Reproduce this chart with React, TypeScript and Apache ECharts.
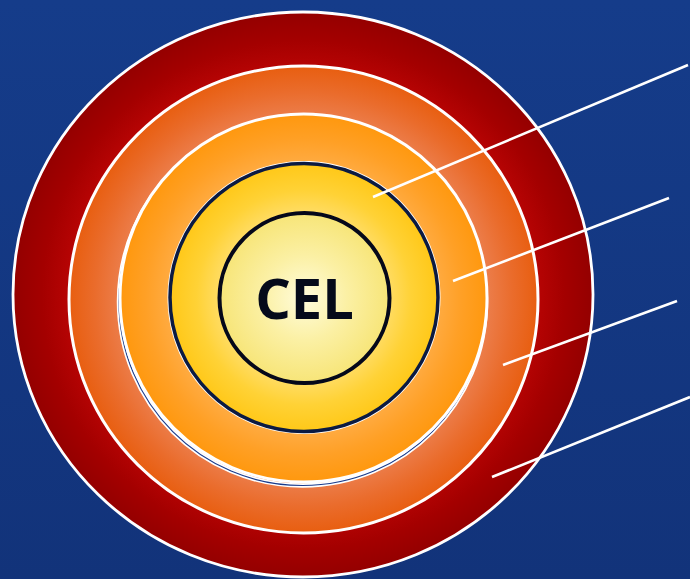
import React, { useEffect, useRef } from "react";
import * as echarts from "echarts";

// Concentric rings (outer -> inner), in pixel-like diagram units
const ringNames = ["Ring 1", "Ring 2", "Ring 3", "Ring 4", "CEL"];
const ringCx = [303, 303.5, 303.5, 304, 304.5];
const ringCy = [294.5, 299.5, 298, 297.5, 298];
const ringRx = [290, 234.5, 183.5, 134, 85];
const ringRy = [282.5, 233.5, 184, 134, 85];
const ringInnerColor = ["#b80404", "#ec7e4c", "#ffac44", "#ffde6c", "#fffcdc"];
const ringMidColor = ["#a40000", "#ea6c2c", "#ffa026", "#ffd236", "#fbf0a4"];
const ringEdgeColor = ["#940000", "#e85e10", "#ff980e", "#ffc818", "#f7e578"];
const ringInnerStop = [0.8, 0.78, 0.72, 0.6, 0];
const ringStroke = ["#ffffff", "#ffffff", "#ffffff", "#0b1a42", "#05081a"];
const ringStrokeWidth = [2.8, 3, 3, 3.5, 4];

// Leader lines
const leaderX1 = [373, 453, 503, 492];
const leaderY1 = [197, 281, 365, 477];
const leaderX2 = [688, 669, 677, 690];
const leaderY2 = [65, 198, 301, 397];

const centerLabel = "CEL";

export default function App() {
  const ref = useRef<HTMLDivElement>(null);
  useEffect(() => {
    if (!ref.current) return;
    const chart = echarts.init(ref.current, undefined, { renderer: "svg" });
    const ringData = ringNames.map((n, i) => ({
      name: n,
      value: [ringCx[i], ringCy[i], ringRx[i], ringRy[i]],
    }));
    const lineData = leaderX1.map((x, i) => [x, leaderY1[i], leaderX2[i], leaderY2[i]]);

    chart.setOption({
      animation: false,
      backgroundColor: {
        type: "linear",
        x: 0,
        y: 0,
        x2: 0,
        y2: 1,
        colorStops: [
          { offset: 0, color: "#153c8a" },
          { offset: 1, color: "#12337a" },
        ],
      },
      grid: { left: 0, right: 0, top: 0, bottom: 0 },
      xAxis: { type: "value", min: 0, max: 690, show: false },
      yAxis: { type: "value", min: 0, max: 579, inverse: true, show: false },
      series: [
        {
          type: "custom",
          coordinateSystem: "cartesian2d",
          data: ringData,
          renderItem: (params: any, api: any) => {
            const i = params.dataIndex;
            const c = api.coord([api.value(0), api.value(1)]);
            const s = api.size([api.value(2), api.value(3)]);
            const rx = Math.abs(s[0]);
            const ry = Math.abs(s[1]);
            const fill = {
              type: "radial",
              x: 0.5,
              y: 0.5,
              r: 0.5,
              colorStops: [
                { offset: 0, color: ringInnerColor[i] },
                { offset: ringInnerStop[i], color: ringInnerColor[i] },
                { offset: (ringInnerStop[i] + 1) / 2, color: ringMidColor[i] },
                { offset: 1, color: ringEdgeColor[i] },
              ],
            };
            const children: any[] = [];
            if (i === 2) {
              // faint offset double outline seen at the lower edge of ring 3
              children.push({
                type: "ellipse",
                shape: { cx: c[0] - 1, cy: c[1] + 3.5, rx: rx, ry: ry },
                style: { fill: "none", stroke: "#ffffff", lineWidth: 4.5 },
              });
              children.push({
                type: "ellipse",
                shape: { cx: c[0] - 1, cy: c[1] + 3.5, rx: rx, ry: ry },
                style: { fill: "none", stroke: "#1a3c8c", lineWidth: 1.2 },
              });
            }
            if (i === 3) {
              children.push({
                type: "ellipse",
                shape: { cx: c[0], cy: c[1], rx: rx + 2.5, ry: ry + 2.5 },
                style: { fill: "#ffffff", stroke: "none" },
              });
            }
            children.push({
              type: "ellipse",
              shape: { cx: c[0], cy: c[1], rx, ry },
              style: { fill, stroke: ringStroke[i], lineWidth: ringStrokeWidth[i] },
            });
            return { type: "group", children };
          },
          z: 1,
          silent: true,
        },
        {
          type: "custom",
          coordinateSystem: "cartesian2d",
          data: lineData,
          renderItem: (params: any, api: any) => {
            const p1 = api.coord([api.value(0), api.value(1)]);
            const p2 = api.coord([api.value(2), api.value(3)]);
            return {
              type: "line",
              shape: { x1: p1[0], y1: p1[1], x2: p2[0], y2: p2[1] },
              style: { stroke: "#ffffff", lineWidth: 2.6 },
            };
          },
          z: 2,
          silent: true,
        },
        {
          type: "custom",
          coordinateSystem: "cartesian2d",
          data: [[ringCx[4], ringCy[4] - 1]],
          renderItem: (params: any, api: any) => {
            const p = api.coord([api.value(0), api.value(1)]);
            return {
              type: "text",
              x: p[0],
              y: p[1],
              style: {
                text: centerLabel,
                fill: "#050a1a",
                font: "bold 56px 'Open Sans', sans-serif",
                align: "center",
                verticalAlign: "middle",
              },
            };
          },
          z: 3,
          silent: true,
        },
      ],
    });
    return () => chart.dispose();
  }, []);
  return (
    <div
      ref={ref}
      style={{ position: "fixed", left: 0, top: 0, width: 690, height: 579 }}
    />
  );
}
